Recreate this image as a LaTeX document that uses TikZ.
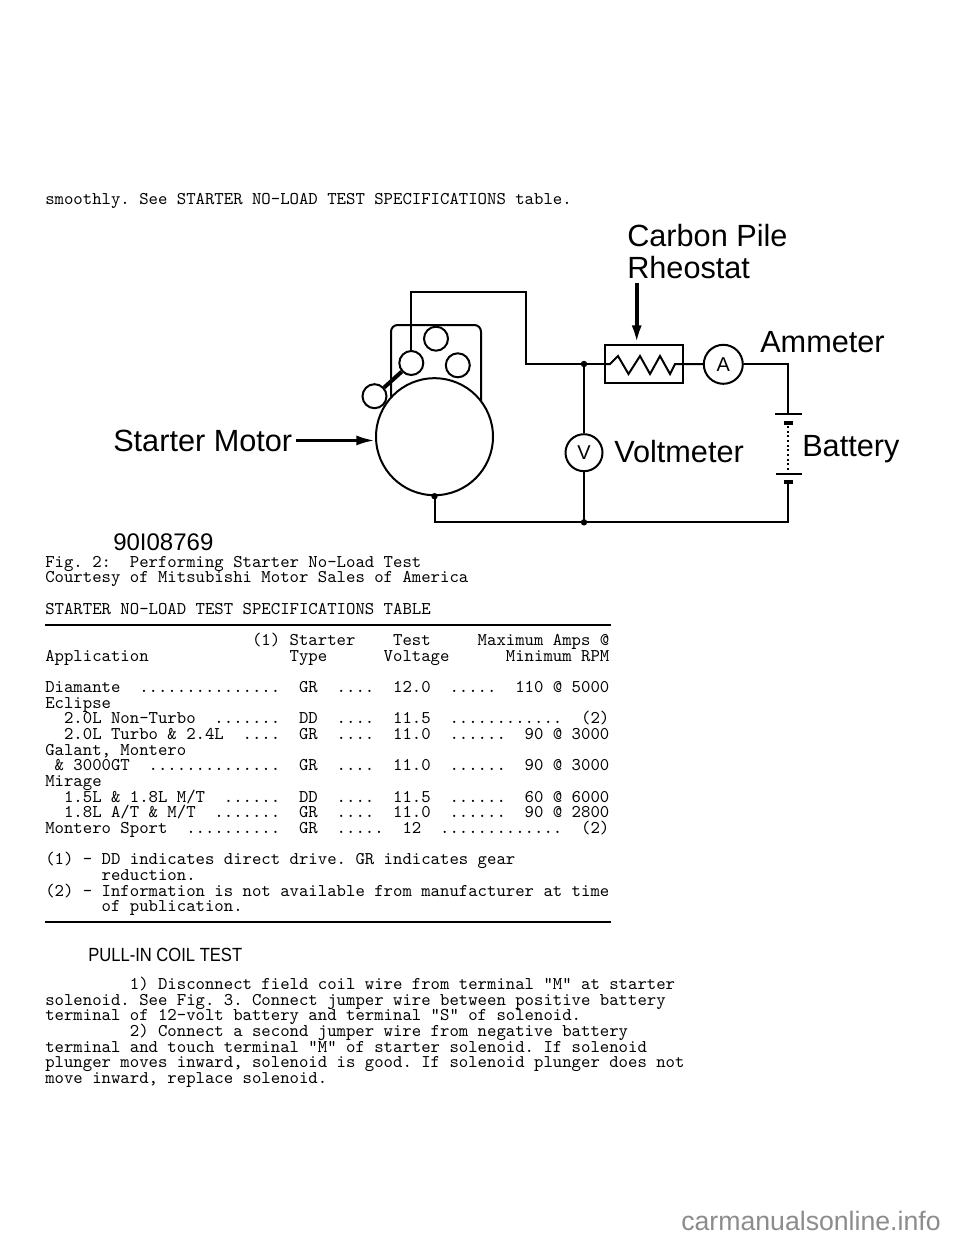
\documentclass[tikz,border=0pt]{standalone}
\usepackage{fontspec}
\usepackage{graphicx}
\newfontfamily\sffont{Liberation Sans}
\newfontfamily\monoten{lmmono10-regular.otf}
\usetikzlibrary{arrows.meta}

\tikzset{
  wire/.style={line width=1.5pt},
  motor/.style={circle, draw, line width=1.5pt, minimum size=87.75pt, inner sep=0pt},
  term/.style={circle, draw, fill=white, line width=1.5pt, minimum size=18pt, inner sep=0pt},
  meter/.style={circle, draw, line width=1.5pt, minimum size=29.25pt, inner sep=0pt,
    font=\sffont\fontsize{15}{15}\selectfont},
  rheobox/.style={rectangle, draw, line width=1.5pt, minimum width=58.5pt, minimum height=28.5pt},
  pointer/.style={line width=2.25pt, -{Latex[length=14pt,width=7.5pt]}},
  lbl/.style={font=\sffont\fontsize{23}{26}\selectfont, anchor=base west, inner sep=0pt},
  mono/.style={font=\monoten\fontsize{13.43}{15}\selectfont\frenchspacing, anchor=base west, inner sep=0pt},
}

\begin{document}
\begin{tikzpicture}[x=0.75pt,y=-0.75pt]
\useasboundingbox[fill=white] (0,0) rectangle (960,1242);

\node[mono] (intro) at (45,204.5) {smoothly. See STARTER NO-LOAD TEST SPECIFICATIONS table.};

% starter motor and solenoid
\node[motor] (mot) at (434.5,436.7) {};
\draw[wire, rounded corners=5pt] (391,397.6) -- (391,325) -- (481,325) -- (481,401.2);
\node[term] (tA) at (411.3,363) {};
\node[term] (tB) at (436,338.7) {};
\node[term] (tC) at (457.8,365.3) {};
\node[term] (tD) at (374.5,396.2) {};
\draw[line width=3pt] (tD) -- (tA);

% meters and rheostat
\node[rheobox] (rheo) at (644,364) {};
\node[meter] (amm) at (723.3,364.3) {A};
\node[meter, minimum size=27.75pt] (volt) at (584,452.7) {V};
\draw[wire] (rheo.west) -- (610,364) -- (618,356) -- (628.5,374) -- (640,356)
  -- (650,374) -- (660,356) -- (670,374) -- (675,364) -- (rheo.east);

\coordinate (c1) at (525.7,291.7);
\coordinate (j1) at (584,364);
\coordinate (j2) at (584,522.3);
\coordinate (bt) at (788.3,414);
\coordinate (bb) at (788.3,482);
\coordinate (cp) at (636.7,283);

% wiring
\draw[wire] (tA) |- (c1) |- (j1) -- (rheo);
\draw[wire] (j1) -- (volt);
\draw[wire] (volt) -- (j2);
\draw[wire] (rheo) -- (amm);
\draw[wire] (amm) -| (bt);
\draw[wire] (mot.south) |- (j2) -| (bb);
\foreach \p in {j1,j2,mot.south}
  \fill (\p) circle (3.2);

% battery
\draw[wire] ([xshift=-10pt]bt) -- ([xshift=10pt]bt);
\draw[line width=3pt] ([xshift=-3.5pt,yshift=-7pt]bt) -- ([xshift=3.5pt,yshift=-7pt]bt);
\draw[wire, dotted] ([yshift=-9pt]bt) -- ([yshift=6pt]bb);
\draw[wire] ([xshift=-9.5pt,yshift=6pt]bb) -- ([xshift=10.5pt,yshift=6pt]bb);
\draw[line width=3pt] ([xshift=-3.5pt]bb) -- ([xshift=3.5pt]bb);

% labels
\node[lbl] (cplbl) at (627,246.5) {Carbon Pile};
\node[lbl] (rhlbl) at (627,278) {Rheostat};
\node[lbl] (amlbl) at (760,352) {Ammeter};
\node[lbl] (vlbl) at (614,462) {Voltmeter};
\node[lbl] (btlbl) at (802,456) {Battery};
\node[lbl] (smlbl) at (113,451) {Starter Motor};
\node[lbl, font=\sffont\fontsize{18}{20}\selectfont] (figno) at (113,550.5) {90I08769};
\draw[pointer, line width=3pt] (cp) -- (cp |- rheo.north);
\draw[pointer] ([xshift=3pt]smlbl.east) -- (mot.west |- smlbl.east);

% caption and table
\node[mono] (t0) at (45,567.2) {Fig. 2:~~Performing Starter No-Load Test};
\node[mono] (t1) at (45,582.9) {Courtesy of Mitsubishi Motor Sales of America};
\node[mono] (t3) at (45,614.2) {STARTER NO-LOAD TEST SPECIFICATIONS TABLE};
\draw[line width=1.1pt] (45,625) -- (611,625);
\node[mono] (t5) at (45,645.6) {~~~~~~~~~~~~~~~~~~~~~~(1) Starter~~~~Test~~~~~Maximum Amps @};
\node[mono] (t6) at (45,661.2) {Application~~~~~~~~~~~~~~~Type~~~~~~Voltage~~~~~~Minimum RPM};
\node[mono] (t8) at (45,692.6) {Diamante~~...............~~GR~~....~~12.0~~.....~~110 @ 5000};
\node[mono] (t9) at (45,708.2) {Eclipse};
\node[mono] (t10) at (45,723.9) {~~2.0L Non-Turbo~~.......~~DD~~....~~11.5~~............~~(2)};
\node[mono] (t11) at (45,739.6) {~~2.0L Turbo \& 2.4L~~....~~GR~~....~~11.0~~......~~90 @ 3000};
\node[mono] (t12) at (45,755.2) {Galant, Montero};
\node[mono] (t13) at (45,770.9) {~\& 3000GT~~..............~~GR~~....~~11.0~~......~~90 @ 3000};
\node[mono] (t14) at (45,786.6) {Mirage};
\node[mono] (t15) at (45,802.2) {~~1.5L \& 1.8L M/T~~......~~DD~~....~~11.5~~......~~60 @ 6000};
\node[mono] (t16) at (45,817.9) {~~1.8L A/T \& M/T~~.......~~GR~~....~~11.0~~......~~90 @ 2800};
\node[mono] (t17) at (45,833.6) {Montero Sport~~..........~~GR~~.....~~12~~.............~~(2)};
\node[mono] (t19) at (45,864.9) {(1) - DD indicates direct drive. GR indicates gear};
\node[mono] (t20) at (45,880.6) {~~~~~~reduction.};
\node[mono] (t21) at (45,896.3) {(2) - Information is not available from manufacturer at time};
\node[mono] (t22) at (45,911.9) {~~~~~~of publication.};
\draw[line width=1.1pt] (45,922) -- (611,922);

% next section
\node[lbl, font=\sffont\fontsize{14.3}{16}\selectfont] (head) at (88,961.5) {\scalebox{0.87}[1]{PULL-IN COIL TEST}};
\node[mono] (p0) at (45,989.5) {~~~~~~~~~1) Disconnect field coil wire from terminal "M" at starter};
\node[mono] (p1) at (45,1005.2) {solenoid. See Fig. 3. Connect jumper wire between positive battery};
\node[mono] (p2) at (45,1020.8) {terminal of 12-volt battery and terminal "S" of solenoid.};
\node[mono] (p3) at (45,1036.5) {~~~~~~~~~2) Connect a second jumper wire from negative battery};
\node[mono] (p4) at (45,1052.2) {terminal and touch terminal "M" of starter solenoid. If solenoid};
\node[mono] (p5) at (45,1067.8) {plunger moves inward, solenoid is good. If solenoid plunger does not};
\node[mono] (p6) at (45,1083.5) {move inward, replace solenoid.};

\node[lbl, font=\sffont\fontsize{20}{22}\selectfont, text=black!45] (wm) at (681,1230) {carmanualsonline.info};
\end{tikzpicture}
\end{document}
